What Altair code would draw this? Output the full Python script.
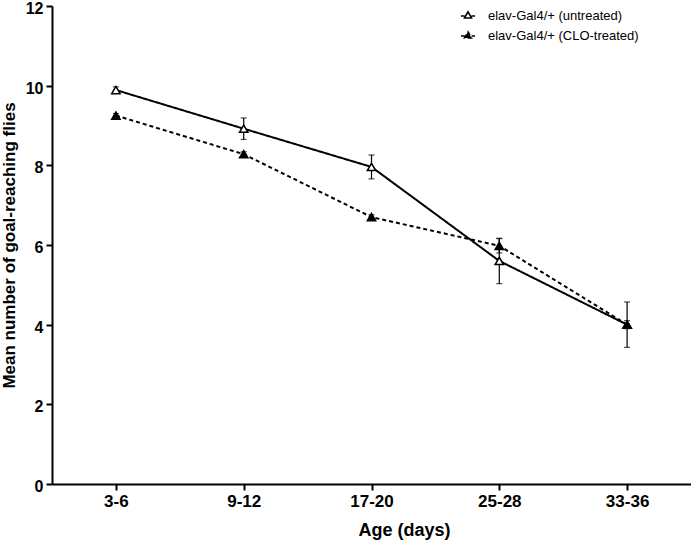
import altair as alt
import pandas as pd

ages = ["3-6", "9-12", "17-20", "25-28", "33-36"]
series_names = ["elav-Gal4/+ (untreated)", "elav-Gal4/+ (CLO-treated)"]
untreated_mean = [9.89, 8.92, 7.96, 5.60, 4.00]
untreated_err = [0.08, 0.27, 0.30, 0.57, 0.57]
treated_mean = [9.25, 8.28, 6.70, 5.98, 4.00]
treated_err = [0.05, 0.06, 0.06, 0.18, 0.10]

rows = []
for name, means, errs in [(series_names[0], untreated_mean, untreated_err),
                          (series_names[1], treated_mean, treated_err)]:
    for a, m, e in zip(ages, means, errs):
        rows.append({"age": a, "series": name,
                     "mean": m, "lo": m - e, "hi": m + e})
df = pd.DataFrame(rows)

FONT = "Liberation Sans"

x_enc = alt.X("age:N", sort=ages, scale=alt.Scale(type="point", padding=0.5),
              axis=alt.Axis(title="Age (days)", labelAngle=0, titleFontSize=18,
                            titleX=352, titleAlign="center"))
y_enc = alt.Y("mean:Q", scale=alt.Scale(domain=[0, 12], nice=False),
              axis=alt.Axis(title="Mean number of goal-reaching flies",
                            values=[0, 2, 4, 6, 8, 10, 12], labelOffset=2.5,
                            labelFontSize=16))

legend_path = "M-1,0H-0.5M0.5,0H1M-0.5,0.28L0,-0.6L0.5,0.28Z"

def make_legend():
    return alt.Legend(title=None, orient="none", legendX=408, legendY=2,
                      symbolType=legend_path, symbolSize=196, symbolStrokeWidth=1.6,
                      symbolStrokeColor="black",
                      labelFont=FONT, labelFontSize=13, labelColor="black",
                      labelOffset=12, rowPadding=5, padding=0)

base = alt.Chart(df)

lines = base.mark_line(color="black", strokeWidth=2).encode(
    x=x_enc, y=y_enc,
    strokeDash=alt.StrokeDash(
        "series:N",
        scale=alt.Scale(domain=series_names, range=[[1, 0], [4, 3]]),
        legend=make_legend(),
    ),
)

err = base.mark_rule(color="black", strokeWidth=1.2).encode(
    x=x_enc, y="lo:Q", y2="hi:Q", detail="series:N")
cap_lo = base.mark_tick(color="black", orient="horizontal", size=6, thickness=1.2).encode(
    x=x_enc, y="lo:Q", detail="series:N")
cap_hi = base.mark_tick(color="black", orient="horizontal", size=6, thickness=1.2).encode(
    x=x_enc, y="hi:Q", detail="series:N")

points = base.mark_point(shape="triangle-up", size=70, filled=True, stroke="black",
                         strokeWidth=1.5, opacity=1).encode(
    x=x_enc, y=y_enc,
    fill=alt.Fill(
        "series:N",
        scale=alt.Scale(domain=series_names, range=["white", "black"]),
        legend=make_legend(),
    ),
)

chart = alt.layer(lines, err, cap_lo, cap_hi, points).properties(
    width=639, height=478,
    autosize=alt.AutoSizeParams(type="none"),
    padding={"left": 52, "top": 6, "right": 0, "bottom": 59},
).configure_view(stroke=None).configure_axis(
    domainColor="black", domainWidth=2, tickColor="black", tickWidth=2, tickSize=6,
    grid=False, labelFont=FONT, labelFontWeight="bold", labelFontSize=17,
    labelColor="black", titleFont=FONT, titleFontWeight="bold", titleFontSize=17,
    titleColor="black", labelPadding=3,
).configure_axisY(titlePadding=7).configure_axisX(titlePadding=12)

chart.save("out.html", embed_options={"renderer": "svg", "actions": False})
